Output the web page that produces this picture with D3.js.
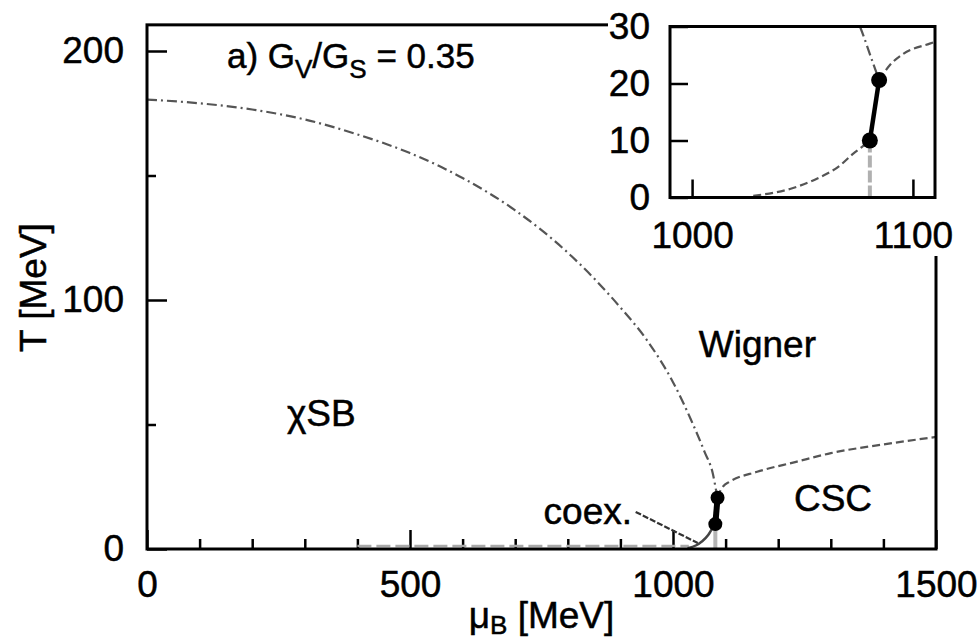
<!DOCTYPE html>
<html>
<head>
<meta charset="utf-8">
<script src="https://cdn.jsdelivr.net/npm/d3@7"></script>
<style>
  body { margin: 0; background: #fff; }
  svg text { font-family: "Liberation Sans", Arial, sans-serif; fill: #000; stroke: #000; stroke-width: 0.5px; }
</style>
</head>
<body>
<div id="chart"></div>
<script>
// phase boundaries, [mu_B in MeV, T in MeV]
const chiralLine = [[0, 180.5], [100, 179], [200, 176.5], [300, 172.5], [400, 166.5], [500, 159],
    [600, 149], [700, 136], [800, 119], [900, 97], [950, 84], [1000, 67], [1034, 52],
    [1060, 39], [1076, 30], [1082, 23.5], [1084.7, 20.6]];
const cscLine = [[1084.7, 20.6], [1089.5, 23.2], [1095.6, 25.2], [1107.6, 27], [1160, 31],
    [1234, 35], [1300, 38.5], [1400, 42], [1500, 45]];
const lowerLine = [[1027.7, 0.3], [1044.3, 1.5], [1054.8, 3], [1066.9, 5.6], [1073, 7.7],
    [1076.7, 8.8], [1080.5, 10]];
const firstOrderLine = [[1080.5, 10], [1084.7, 20.6]];
const verticalLine = [[1080.5, 0], [1080.5, 10]];
const baseLine = [[400, 1.2], [1030, 1.2]];
const coexPointer = [[929, 14.9], [1047, 2.4]];
const endPoints = [[1080.5, 10], [1084.7, 20.6]];

// ticks
const xMajor = [0, 500, 1000, 1500];
const xMinor = [100, 200, 300, 400, 600, 700, 800, 900, 1100, 1200, 1300, 1400];
const yMajor = [0, 100, 200];
const yMinor = [50, 150];
const insetXTicks = [1000, 1100];
const insetYTicks = [0, 10, 20, 30];

const W = 980, H = 641;
const fontSize = 37;

const svg = d3.select('#chart').append('svg')
    .attr('width', W)
    .attr('height', H);

const x = d3.scaleLinear().domain([0, 1500]).range([147, 936]);
const y = d3.scaleLinear().domain([0, 200]).range([549, 51]);
const yTop = 210.5;

const defs = svg.append('defs');
defs.append('clipPath').attr('id', 'mainClip')
    .append('rect')
    .attr('x', x(0)).attr('y', y(yTop))
    .attr('width', x(1500) - x(0)).attr('height', y(0) - y(yTop));

const line = d3.line().x(d => x(d[0])).y(d => y(d[1]));
const smooth = d3.line().x(d => x(d[0])).y(d => y(d[1])).curve(d3.curveMonotoneX);

// axes: ticks point inward, domain replaced by the frame
function styleAxis(g) {
    g.select('.domain').remove();
    g.selectAll('.tick line').attr('stroke', '#000').attr('stroke-width', 2.5);
    g.selectAll('.tick text')
        .attr('font-size', fontSize)
        .attr('fill', '#000')
        .attr('font-family', '"Liberation Sans", Arial, sans-serif');
}

svg.append('g')
    .attr('transform', `translate(0,${y(0)})`)
    .call(d3.axisBottom(x).tickValues(xMajor).tickSize(-19).tickPadding(22).tickFormat(d3.format('d')))
    .call(styleAxis);

svg.append('g')
    .attr('transform', `translate(0,${y(0)})`)
    .call(d3.axisBottom(x).tickValues(xMinor).tickSize(-10).tickFormat(''))
    .call(styleAxis);

svg.append('g')
    .attr('transform', `translate(${x(0)},0)`)
    .call(d3.axisLeft(y).tickValues(yMajor).tickSize(-20).tickPadding(23).tickFormat(d3.format('d')))
    .call(styleAxis);

svg.append('g')
    .attr('transform', `translate(${x(0)},0)`)
    .call(d3.axisLeft(y).tickValues(yMinor).tickSize(-9).tickFormat(''))
    .call(styleAxis);

// curves in the main panel
const plot = svg.append('g').attr('clip-path', 'url(#mainClip)');

plot.append('path').datum(baseLine)
    .attr('d', line).attr('fill', 'none')
    .attr('stroke', '#aaa').attr('stroke-width', 2.5).attr('stroke-dasharray', '14,5');

plot.append('path').datum(chiralLine)
    .attr('d', smooth).attr('fill', 'none')
    .attr('stroke', '#555').attr('stroke-width', 2.2).attr('stroke-dasharray', '10,4,2,4');

plot.append('path').datum(cscLine)
    .attr('d', smooth).attr('fill', 'none')
    .attr('stroke', '#555').attr('stroke-width', 2.2).attr('stroke-dasharray', '8,4');

plot.append('path').datum(lowerLine)
    .attr('d', smooth).attr('fill', 'none')
    .attr('stroke', '#444').attr('stroke-width', 2.5);

plot.append('path').datum(verticalLine)
    .attr('d', line).attr('fill', 'none')
    .attr('stroke', '#b5b5b5').attr('stroke-width', 4);

plot.append('path').datum(coexPointer)
    .attr('d', line).attr('fill', 'none')
    .attr('stroke', '#333').attr('stroke-width', 2.2).attr('stroke-dasharray', '6,2');

plot.append('path').datum(firstOrderLine)
    .attr('d', line).attr('fill', 'none')
    .attr('stroke', '#000').attr('stroke-width', 6);

plot.selectAll('.dot').data(endPoints).enter()
    .append('circle')
    .attr('cx', d => x(d[0])).attr('cy', d => y(d[1]))
    .attr('r', 7).attr('fill', '#000');

// main frame
svg.append('rect')
    .attr('x', x(0)).attr('y', y(yTop))
    .attr('width', x(1500) - x(0)).attr('height', y(0) - y(yTop))
    .attr('fill', 'none').attr('stroke', '#000').attr('stroke-width', 3);

// region labels
svg.append('text')
    .attr('x', x(1049)).attr('y', y(77))
    .attr('font-size', fontSize).text('Wigner');
svg.append('text')
    .attr('x', x(266)).attr('y', y(49.4))
    .attr('font-size', fontSize).text('\u03c7SB');
svg.append('text')
    .attr('x', x(1230)).attr('y', y(15.3))
    .attr('font-size', fontSize).text('CSC');
svg.append('text')
    .attr('x', x(754)).attr('y', y(10))
    .attr('font-size', fontSize).text('coex.');

const title = svg.append('text')
    .attr('x', x(152)).attr('y', y(193))
    .attr('font-size', 35);
title.append('tspan').text('a) G');
title.append('tspan').attr('font-size', 26).attr('dy', 10).text('V');
title.append('tspan').attr('dy', -10).text('/G');
title.append('tspan').attr('font-size', 26).attr('dy', 10).text('S');
title.append('tspan').attr('dy', -10).text(' = 0.35');

const xLabel = svg.append('text')
    .attr('x', x(750)).attr('y', 628)
    .attr('text-anchor', 'middle')
    .attr('font-size', fontSize);
xLabel.append('tspan').text('\u03bc');
xLabel.append('tspan').attr('font-size', 26).attr('dy', 6).text('B');
xLabel.append('tspan').attr('dy', -6).text(' [MeV]');

svg.append('text')
    .attr('transform', `translate(46,${y(105)}) rotate(-90)`)
    .attr('text-anchor', 'middle')
    .attr('font-size', fontSize)
    .text('T [MeV]');

// inset
const ix = d3.scaleLinear().domain([990, 1110]).range([670, 935]);
const iy = d3.scaleLinear().domain([0, 30]).range([197.5, 26.5]);

const inset = svg.append('g');
inset.append('rect')
    .attr('x', 608).attr('y', 0)
    .attr('width', W - 608).attr('height', 256)
    .attr('fill', '#fff');

defs.append('clipPath').attr('id', 'insetClip')
    .append('rect')
    .attr('x', ix(990)).attr('y', iy(30))
    .attr('width', ix(1110) - ix(990)).attr('height', iy(0) - iy(30));

const iline = d3.line().x(d => ix(d[0])).y(d => iy(d[1]));
const ismooth = d3.line().x(d => ix(d[0])).y(d => iy(d[1])).curve(d3.curveMonotoneX);

inset.append('g')
    .attr('transform', `translate(0,${iy(0)})`)
    .call(d3.axisBottom(ix).tickValues(insetXTicks).tickSize(-18).tickPadding(24).tickFormat(d3.format('d')))
    .call(styleAxis);

inset.append('g')
    .attr('transform', `translate(${ix(990)},0)`)
    .call(d3.axisLeft(iy).tickValues(insetYTicks).tickSize(-18).tickPadding(20).tickFormat(d3.format('d')))
    .call(styleAxis);

const iplot = inset.append('g').attr('clip-path', 'url(#insetClip)');

iplot.append('path').datum(chiralLine)
    .attr('d', ismooth).attr('fill', 'none')
    .attr('stroke', '#555').attr('stroke-width', 2.2).attr('stroke-dasharray', '10,4,2,4');

iplot.append('path').datum(cscLine)
    .attr('d', ismooth).attr('fill', 'none')
    .attr('stroke', '#555').attr('stroke-width', 2.2).attr('stroke-dasharray', '8,4');

iplot.append('path').datum(lowerLine)
    .attr('d', ismooth).attr('fill', 'none')
    .attr('stroke', '#555').attr('stroke-width', 2.2).attr('stroke-dasharray', '8,4');

iplot.append('path').datum(verticalLine)
    .attr('d', iline).attr('fill', 'none')
    .attr('stroke', '#b0b0b0').attr('stroke-width', 4).attr('stroke-dasharray', '12,3');

iplot.append('path').datum(firstOrderLine)
    .attr('d', iline).attr('fill', 'none')
    .attr('stroke', '#000').attr('stroke-width', 4.5);

iplot.selectAll('.dot').data(endPoints).enter()
    .append('circle')
    .attr('cx', d => ix(d[0])).attr('cy', d => iy(d[1]))
    .attr('r', 8).attr('fill', '#000');

inset.append('rect')
    .attr('x', ix(990)).attr('y', iy(30))
    .attr('width', ix(1110) - ix(990)).attr('height', iy(0) - iy(30))
    .attr('fill', 'none').attr('stroke', '#000').attr('stroke-width', 3);
</script>
</body>
</html>
